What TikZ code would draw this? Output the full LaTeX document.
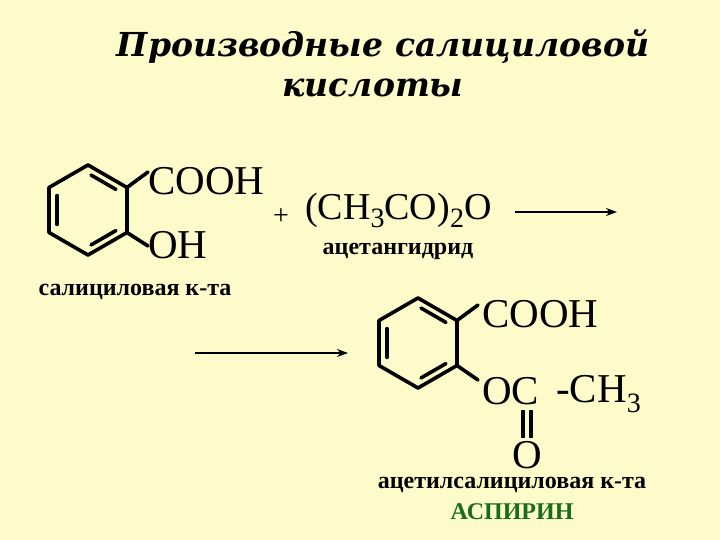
\documentclass[tikz,border=0pt]{standalone}
\usepackage{fontspec}
\setmainfont{Liberation Serif}
\newfontfamily\titlefont{DejaVu Serif}
\usetikzlibrary{arrows.meta,calc}
\definecolor{bg}{HTML}{FCFBC9}
\definecolor{asp}{HTML}{1A6B1A}
\tikzset{
  bond/.style={line width=3.6pt,line cap=round,line join=round},
  formula/.style={inner sep=0pt,font=\fontsize{41}{41}\selectfont,anchor=west},
  lbl/.style={inner sep=0pt,font=\fontsize{24}{24}\selectfont\bfseries},
  rarrow/.style={line width=2pt,-{Stealth[length=11pt,width=8pt]}},
  ttl/.style={inner sep=0pt,font=\titlefont\fontsize{33}{33}\selectfont\bfseries\itshape}
}
\begin{document}
\begin{tikzpicture}[x=1pt,y=-1pt]
\fill[bg] (0,0) rectangle (720,540);
\useasboundingbox (0,0) rectangle (720,540);
% title
\node[ttl] (t1) at (383,47) {Производные салициловой};
\node[ttl] (t2) at (373,88) {кислоты};
% ring 1
\foreach \i in {0,...,5}{\coordinate (a\i) at ({88+45*sin(60*\i)},{210-45*cos(60*\i)});}
\draw[bond] (a0)--(a1)--(a2)--(a3)--(a4)--(a5)--cycle;
\draw[bond] ($(a0)!0.18!(a1)+(-4,6)$) -- ($(a0)!0.82!(a1)+(-4,6)$);
\draw[bond] ($(a2)!0.18!(a3)+(-4,-6)$) -- ($(a2)!0.82!(a3)+(-4,-6)$);
\draw[bond] ($(a4)!0.18!(a5)+(8,0)$) -- ($(a4)!0.82!(a5)+(8,0)$);
\coordinate (b1) at (148,172);
\coordinate (b2) at (148,246);
\draw[bond] (a1)--(b1);
\draw[bond] (a2)--(b2);
\node[formula] (cooh1) at (148,181) {COOH};
\node[formula] (oh1) at (148,245) {OH};
\node[inner sep=0pt,font=\fontsize{28}{28}\selectfont] (plus) at (281,217) {+};
\node[formula,font=\fontsize{38}{38}\selectfont] (anh) at (305,210) {(CH\raisebox{-8pt}{\fontsize{28}{28}\selectfont 3}CO)\raisebox{-8pt}{\fontsize{28}{28}\selectfont 2}O};
\node[lbl] (anhl) at (398,251) {ацетангидрид};
\coordinate (r1s) at (515,212);
\coordinate (r1e) at (617,212);
\draw[rarrow] (r1s)--(r1e);
\node[lbl] (sal) at (135,292) {салициловая к-та};
\coordinate (r2s) at (195,353);
\coordinate (r2e) at (348,353);
\draw[rarrow] (r2s)--(r2e);
% ring 2
\foreach \i in {0,...,5}{\coordinate (c\i) at ({418+45*sin(60*\i)},{343-45*cos(60*\i)});}
\draw[bond] (c0)--(c1)--(c2)--(c3)--(c4)--(c5)--cycle;
\draw[bond] ($(c0)!0.18!(c1)+(-4,6)$) -- ($(c0)!0.82!(c1)+(-4,6)$);
\draw[bond] ($(c2)!0.18!(c3)+(-4,-6)$) -- ($(c2)!0.82!(c3)+(-4,-6)$);
\draw[bond] ($(c4)!0.18!(c5)+(8,0)$) -- ($(c4)!0.82!(c5)+(8,0)$);
\coordinate (d1) at (478,305);
\coordinate (d2) at (478,380);
\draw[bond] (c1)--(d1);
\draw[bond] (c2)--(d2);
\node[formula] (cooh2) at (482,314) {COOH};
\node[formula] (oc) at (482,391) {OC};
\node[formula] (ch3) at (556,394) {-CH\raisebox{-10pt}{\fontsize{28}{28}\selectfont 3}};
\node[formula,anchor=center] (o2) at (527,455) {O};
\draw[bond,line cap=butt] (523,410)--(523,438);
\draw[bond,line cap=butt] (531,410)--(531,438);
\node[lbl] (acet) at (512,485) {ацетилсалициловая к-та};
\node[lbl,text=asp] (aspn) at (512,512) {АСПИРИН};
\end{tikzpicture}
\end{document}
